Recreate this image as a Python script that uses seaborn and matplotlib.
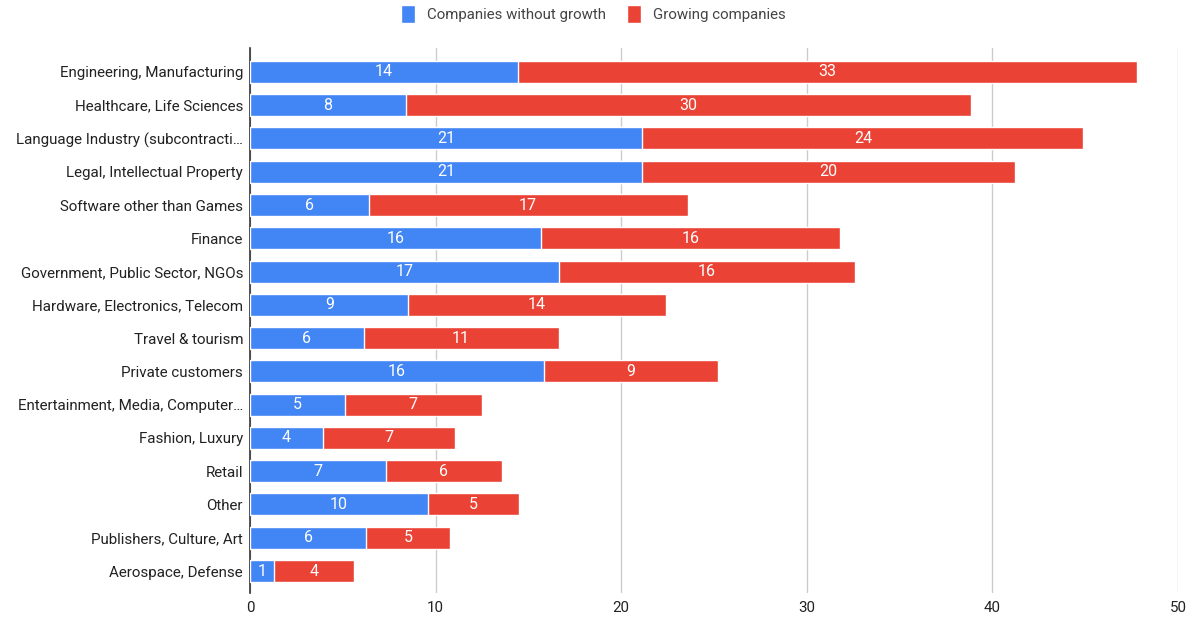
import matplotlib
matplotlib.use("Agg")
import matplotlib.pyplot as plt
import seaborn as sns
import pandas as pd
from matplotlib.patches import Patch

categories = [
    "Engineering, Manufacturing",
    "Healthcare, Life Sciences",
    "Language Industry (subcontracti\u2026",
    "Legal, Intellectual Property",
    "Software other than Games",
    "Finance",
    "Government, Public Sector, NGOs",
    "Hardware, Electronics, Telecom",
    "Travel & tourism",
    "Private customers",
    "Entertainment, Media, Computer\u2026",
    "Fashion, Luxury",
    "Retail",
    "Other",
    "Publishers, Culture, Art",
    "Aerospace, Defense",
]
without_growth = [14.42, 8.40, 21.14, 21.14, 6.39, 15.66, 16.65, 8.54,
                  6.12, 15.84, 5.11, 3.91, 7.32, 9.61, 6.26, 1.30]
growing = [33.37, 30.44, 23.76, 20.07, 17.20, 16.12, 15.95, 13.86,
           10.51, 9.36, 7.37, 7.15, 6.24, 4.88, 4.53, 4.28]
x_ticks = [0, 10, 20, 30, 40, 50]

BLUE = "#4285F4"
RED = "#EA4335"

df = pd.DataFrame({"category": categories,
                   "without": without_growth,
                   "growing": growing})
df["total"] = df["without"] + df["growing"]

sns.set_theme(style="white")
plt.rcParams["font.family"] = ["Roboto", "DejaVu Sans"]

fig = plt.figure(figsize=(11.87, 6.23), dpi=100)
ax = fig.add_axes([0.2106, 0.0482, 0.7818, 0.8748])

# Stacked bars: full total in red, the non-growing share in blue on top
sns.barplot(data=df, x="total", y="category", order=categories, orient="h",
            color=RED, saturation=1, width=0.66, ax=ax, zorder=2)
sns.barplot(data=df, x="without", y="category", order=categories, orient="h",
            color=BLUE, saturation=1, width=0.66, ax=ax, zorder=3)

# Segment value labels
for i, row in df.iterrows():
    ax.text(row["without"] / 2, i, f"{row['without']:.0f}", ha="center",
            va="center", color="white", fontsize=11.5, zorder=4)
    ax.text(row["without"] + row["growing"] / 2, i, f"{row['growing']:.0f}",
            ha="center", va="center", color="white", fontsize=11.5, zorder=4)

ax.set_xlim(0, 50)
ax.set_ylim(15.66, -0.72)
ax.set_xticks(x_ticks)
ax.set_xticklabels([str(t) for t in x_ticks])
ax.xaxis.grid(True, color="#cccccc", linewidth=1)
ax.set_axisbelow(True)
ax.set_xlabel("")
ax.set_ylabel("")
for s in ["top", "right", "bottom"]:
    ax.spines[s].set_visible(False)
ax.spines["left"].set_color("#333333")
ax.spines["left"].set_linewidth(1.2)
ax.tick_params(axis="both", length=0, labelsize=10.9, labelcolor="#222222")
ax.tick_params(axis="y", pad=5)
ax.tick_params(axis="x", pad=6)

handles = [Patch(facecolor=BLUE, label="Companies without growth"),
           Patch(facecolor=RED, label="Growing companies")]
fig.legend(handles=handles, loc="upper center", bbox_to_anchor=(0.5, 1.014),
           ncol=2, frameon=False, fontsize=10.8, handlelength=0.95,
           handleheight=1.45, handletextpad=0.8, columnspacing=1.4,
           labelcolor="#444444")

fig.savefig("out.png", dpi=100)
